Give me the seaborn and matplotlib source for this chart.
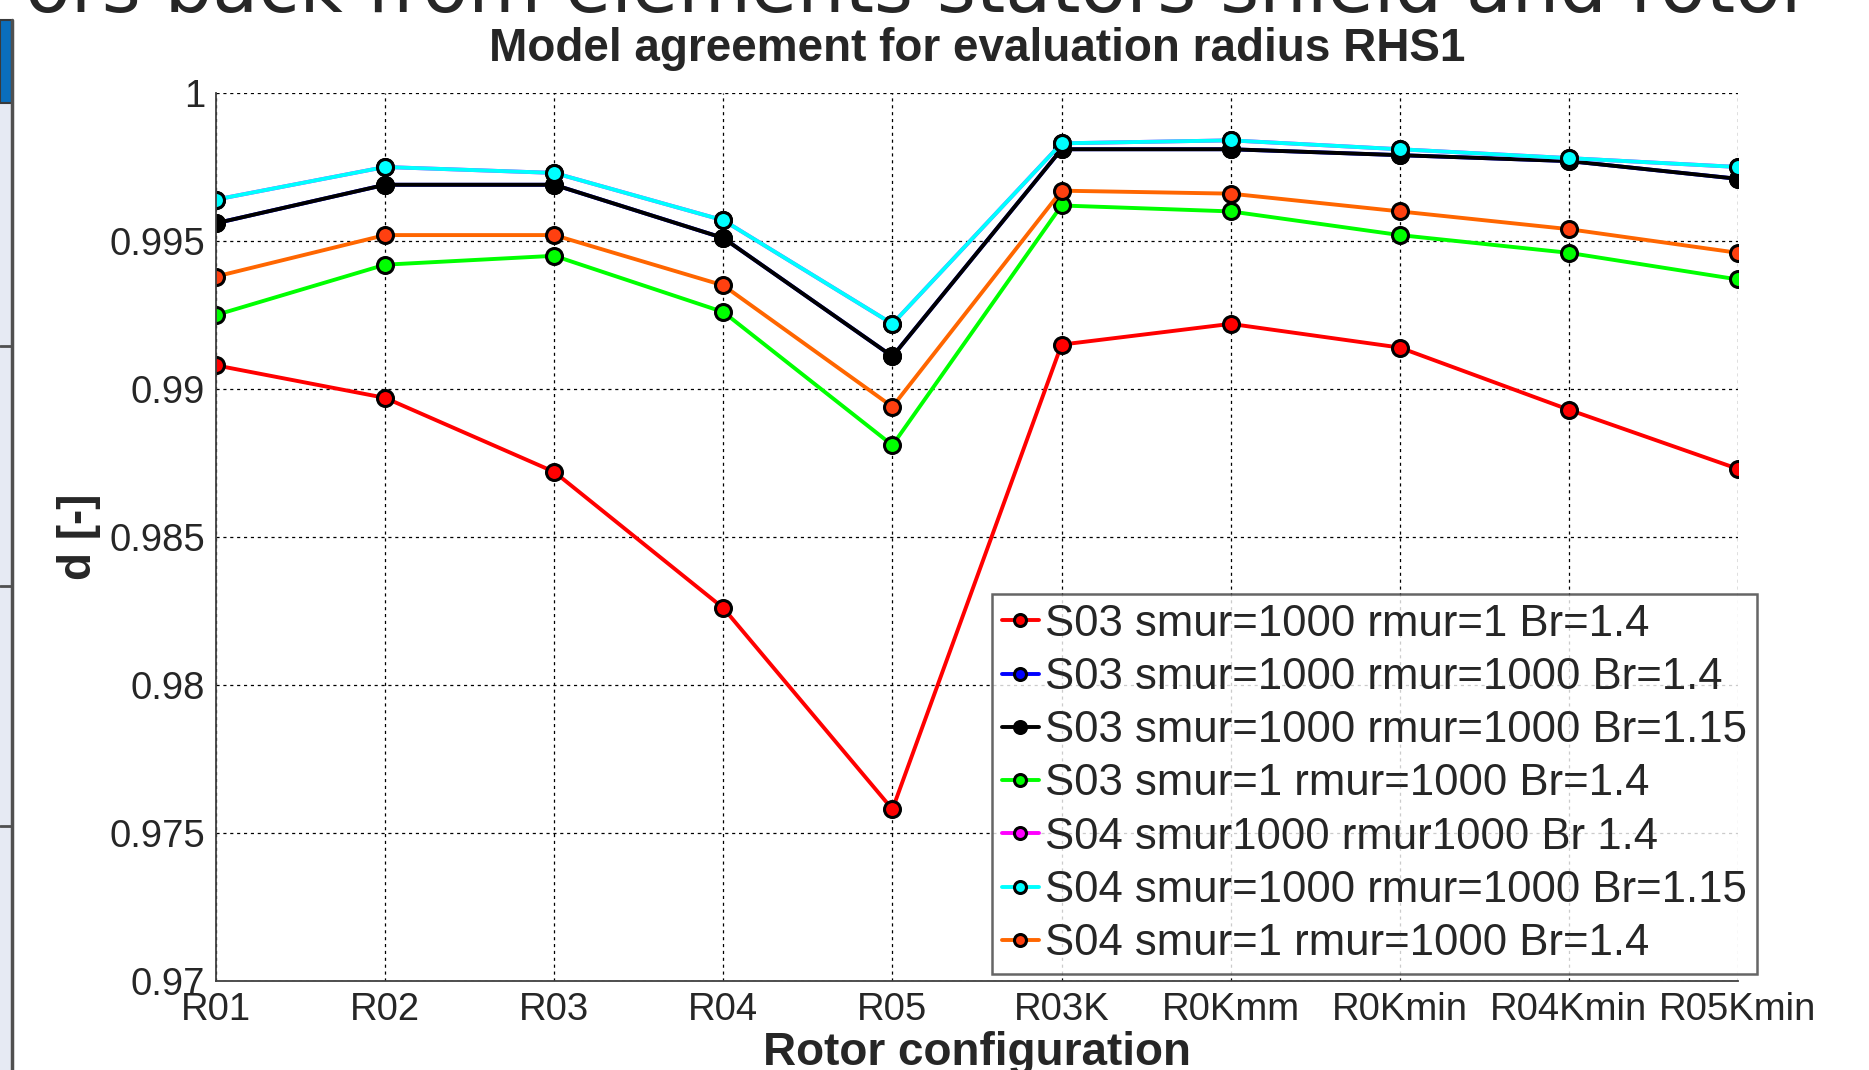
"""
Model agreement chart (MATLAB-style) redrawn with seaborn
"""

import matplotlib

matplotlib.use("Agg")
import matplotlib.pyplot as plt
import pandas as pd
import seaborn as sns
from matplotlib.patches import Rectangle
from matplotlib.ticker import FormatStrFormatter, MultipleLocator

# Data
configs = ["R01", "R02", "R03", "R04", "R05", "R03K", "R0Kmm", "R0Kmin", "R04Kmin", "R05Kmin"]

s03_1000_1_14 = [0.9908, 0.9897, 0.9872, 0.9826, 0.9758, 0.9915, 0.9922, 0.9914, 0.9893, 0.9873]
s03_1000_1000_14 = [0.9956, 0.9969, 0.9969, 0.9951, 0.9911, 0.9981, 0.9981, 0.9979, 0.9977, 0.9971]
s03_1000_1000_115 = [0.9956, 0.9969, 0.9969, 0.9951, 0.9911, 0.9981, 0.9981, 0.9979, 0.9977, 0.9971]
s03_1_1000_14 = [0.9925, 0.9942, 0.9945, 0.9926, 0.9881, 0.9962, 0.9960, 0.9952, 0.9946, 0.9937]
s04_1000_1000_14 = [0.9964, 0.9975, 0.9973, 0.9957, 0.9922, 0.9983, 0.9984, 0.9981, 0.9978, 0.9975]
s04_1000_1000_115 = [0.9964, 0.9975, 0.9973, 0.9957, 0.9922, 0.9983, 0.9984, 0.9981, 0.9978, 0.9975]
s04_1_1000_14 = [0.9938, 0.9952, 0.9952, 0.9935, 0.9894, 0.9967, 0.9966, 0.9960, 0.9954, 0.9946]

labels = [
    "S03 smur=1000 rmur=1 Br=1.4",
    "S03 smur=1000 rmur=1000 Br=1.4",
    "S03 smur=1000 rmur=1000 Br=1.15",
    "S03 smur=1 rmur=1000 Br=1.4",
    "S04 smur1000 rmur1000 Br 1.4",
    "S04 smur=1000 rmur=1000 Br=1.15",
    "S04 smur=1 rmur=1000 Br=1.4",
]
series = [
    s03_1000_1_14,
    s03_1000_1000_14,
    s03_1000_1000_115,
    s03_1_1000_14,
    s04_1000_1000_14,
    s04_1000_1000_115,
    s04_1_1000_14,
]
line_colors = ["#FF0000", "#0000FF", "#000000", "#00FF00", "#FF00FF", "#00FFFF", "#FF6600"]
face_colors = ["#FF0000", "#0000FF", "#000000", "#00FF00", "#FF00FF", "#00FFFF", "#FF4010"]

sns.set_style("white")
plt.rcParams["font.family"] = ["Liberation Sans", "DejaVu Sans"]

W, H = 1869, 1070
fig = plt.figure(figsize=(W / 100, H / 100), dpi=100)

# slide remnants around the chart (screenshot context)
fig.text(1812 / W, 1 - 12 / H, "ors back from elements stators shield and rotor",
         family="DejaVu Sans", fontsize=54, ha="right", va="baseline")
fig.patches.append(Rectangle((0, 0), 11 / W, 1 - 100 / H, transform=fig.transFigure,
                             facecolor="#E6EAF3", edgecolor="none", zorder=0))
fig.patches.append(Rectangle((0, 1 - 103 / H), 12 / W, 83 / H, transform=fig.transFigure,
                             facecolor="#0A6EBD", edgecolor="#3A3A3A", lw=1.5, zorder=1))
fig.lines.append(plt.Line2D([11.5 / W, 11.5 / W], [0, 1 - 20 / H], transform=fig.transFigure,
                            color="#505050", lw=2.5))
for yy in [346, 586, 826]:
    fig.lines.append(plt.Line2D([0, 11 / W], [1 - yy / H, 1 - yy / H], transform=fig.transFigure,
                                color="#505050", lw=2))

ax = fig.add_axes([216 / W, 1 - 981 / H, (1738 - 216) / W, (981 - 93) / H])

for lab, vals, lc, fc in zip(labels, series, line_colors, face_colors):
    df = pd.DataFrame({"config": configs, "d": vals})
    sns.lineplot(
        data=df, x="config", y="d", ax=ax, color=lc, linewidth=2.8,
        marker="o", markersize=11.5, markerfacecolor=fc, markeredgecolor="black",
        markeredgewidth=2.2, sort=False, label=lab, errorbar=None,
    )

ax.set_xlim(0, len(configs) - 1)
ax.set_ylim(0.97, 1.0)
ax.yaxis.set_major_locator(MultipleLocator(0.005))
ax.yaxis.set_major_formatter(FormatStrFormatter("%g"))

ax.grid(True, color="black", linestyle=(0, (2.5, 3)), linewidth=0.9)
for side in ["top", "right"]:
    ax.spines[side].set_visible(False)
for side in ["left", "bottom"]:
    ax.spines[side].set_color("#404040")
    ax.spines[side].set_linewidth(1.3)

ax.tick_params(axis="both", direction="in", length=10, width=1.2, color="#404040", labelsize=27.5)
ax.tick_params(axis="x", pad=8)
ax.tick_params(axis="y", pad=8)

ax.set_title("Model agreement for evaluation radius RHS1", fontsize=33, fontweight="bold", pad=23)
ax.set_xlabel("Rotor configuration", fontsize=33, fontweight="bold", labelpad=2)
ax.set_ylabel("d [-]", fontsize=33, fontweight="bold", labelpad=6)

leg = ax.legend(
    loc="upper left", bbox_to_anchor=(992 / W, 1 - 594 / H), bbox_transform=fig.transFigure,
    borderaxespad=0, fontsize=31.5, handlelength=0.85, handletextpad=0.15, labelspacing=0.28,
    borderpad=0.22, frameon=True, fancybox=False, markerscale=0.75,
)
leg.get_frame().set_edgecolor("#404040")
leg.get_frame().set_linewidth(1.8)

plt.savefig("out.png", dpi=100)
